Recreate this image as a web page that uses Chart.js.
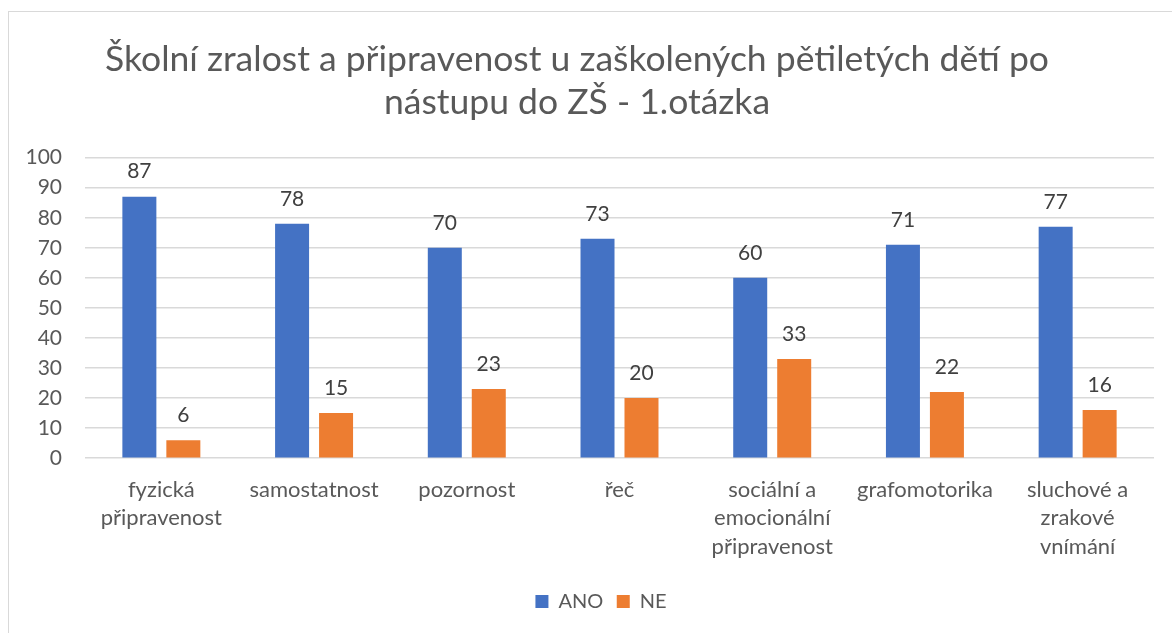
<!DOCTYPE html>
<html>
<head>
<meta charset="utf-8">
<script src="https://cdn.jsdelivr.net/npm/chart.js@4/dist/chart.umd.min.js"></script>
<style>
  html, body { margin: 0; padding: 0; width: 1172px; height: 633px; overflow: hidden; background: #fff; }
  #frame { position: absolute; left: 8px; top: 11px; width: 1300px; height: 800px; border: 1px solid #d9d9d9; box-sizing: border-box; }
  #wrap { position: absolute; left: 0; top: 0; width: 1172px; height: 633px; }
</style>
</head>
<body>
<div id="frame"></div>
<div id="wrap"><canvas id="c" width="1172" height="633"></canvas></div>
<script>
const titleLines = ["Školní zralost a připravenost u zaškolených pětiletých dětí po", "nástupu do ZŠ - 1.otázka"];
const categories = [
  ["fyzická", "připravenost"],
  ["samostatnost"],
  ["pozornost"],
  ["řeč"],
  ["sociální a", "emocionální", "připravenost"],
  ["grafomotorika"],
  ["sluchové a", "zrakové", "vnímání"]
];
const seriesNames = ["ANO", "NE"];
const anoValues = [87, 78, 70, 73, 60, 71, 77];
const neValues = [6, 15, 23, 20, 33, 22, 16];
const yTicks = [0, 10, 20, 30, 40, 50, 60, 70, 80, 90, 100];

const FONT = "Lato, 'Open Sans', sans-serif";

const dataLabels = {
  id: 'dataLabels',
  afterDatasetsDraw(chart) {
    const ctx = chart.ctx;
    ctx.save();
    ctx.font = "21px " + FONT;
    ctx.fillStyle = "#404040";
    ctx.textAlign = "center";
    ctx.textBaseline = "middle";
    chart.data.datasets.forEach((ds, i) => {
      chart.getDatasetMeta(i).data.forEach((bar, j) => {
        ctx.fillText(String(ds.data[j]), bar.x, bar.y - 25);
      });
    });
    ctx.restore();
  }
};

// centre the legend under the whole chart frame (as in the original) rather than the layout box
const legendShift = {
  id: 'legendShift',
  afterLayout(chart) {
    if (chart.legend) { chart.legend.left += 24; chart.legend.right += 24; }
  }
};

new Chart(document.getElementById('c'), {
  type: 'bar',
  data: {
    labels: categories,
    datasets: [
      { label: seriesNames[0], data: anoValues, backgroundColor: '#4472c4', barPercentage: 0.773, categoryPercentage: 0.576 },
      { label: seriesNames[1], data: neValues, backgroundColor: '#ed7d31', barPercentage: 0.773, categoryPercentage: 0.576 }
    ]
  },
  options: {
    responsive: false,
    animation: false,
    devicePixelRatio: 1,
    layout: { padding: { left: 0, right: 18, top: 38, bottom: 11.5 } },
    plugins: {
      title: {
        display: true,
        text: titleLines,
        color: '#595959',
        font: { family: FONT, size: 35.5, weight: 'normal', lineHeight: 1.22 },
        padding: { top: 0, bottom: 33 }
      },
      legend: {
        position: 'bottom',
        labels: {
          color: '#595959',
          font: { family: FONT, size: 20 },
          boxWidth: 13,
          boxHeight: 13,
          padding: 13.5
        }
      },
      tooltip: { enabled: false }
    },
    scales: {
      x: {
        grid: { display: false, drawTicks: false },
        border: { display: false },
        ticks: {
          color: '#595959',
          font: { family: FONT, size: 22, lineHeight: 1.3 },
          maxRotation: 0,
          autoSkip: false,
          padding: 17
        }
      },
      y: {
        min: 0,
        max: 100,
        afterBuildTicks(scale) { scale.ticks = yTicks.map(v => ({ value: v })); },
        afterFit(scale) { scale.width = 85; },
        grid: { color: '#d9d9d9', lineWidth: 1.5, drawTicks: false },
        border: { display: false },
        ticks: {
          color: '#595959',
          font: { family: FONT, size: 21 },
          padding: 23
        }
      }
    }
  },
  plugins: [dataLabels, legendShift]
});
</script>
</body>
</html>
